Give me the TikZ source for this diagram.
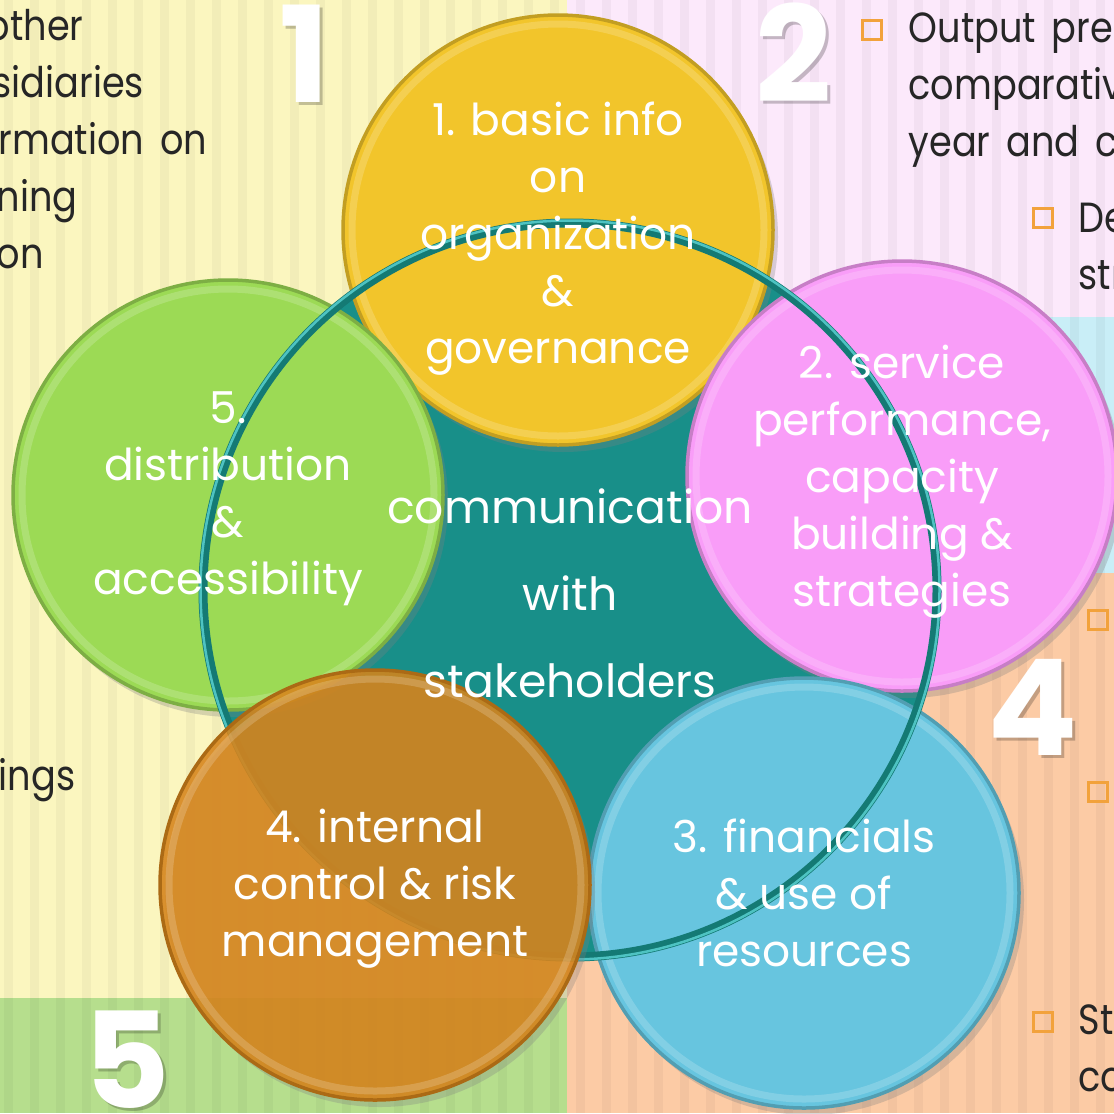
\documentclass[tikz,border=0pt]{standalone}
\usepackage{fontspec}
\setmainfont{Poppins}
\newfontfamily\notefamily[FakeStretch=0.87, WordSpace=1.6]{Poppins}
\usetikzlibrary{shadows}

\definecolor{paneyellow}{HTML}{FBF6BF}
\definecolor{panepink}{HTML}{FCE9FB}
\definecolor{paneblue}{HTML}{C9EEF7}
\definecolor{panepeach}{HTML}{FCCBA5}
\definecolor{panegreen}{HTML}{B6DE8D}
\definecolor{discyellow}{HTML}{F2C52B}
\definecolor{discpink}{HTML}{F99DF8}
\definecolor{discblue}{HTML}{67C5DF}
\definecolor{discorange}{HTML}{D6841A}
\definecolor{discgreen}{HTML}{9CDA55}
\definecolor{hubteal}{HTML}{188F89}
\definecolor{rimcyan}{HTML}{5DD6D6}
\definecolor{notegray}{HTML}{262626}
\definecolor{bulletorange}{HTML}{F2A23C}

\newcommand{\discfont}{\fontsize{12.5}{16.2}\selectfont}
\newcommand{\hubfont}{\fontsize{13}{24.8}\selectfont}
\newcommand{\notefont}{\notefamily\fontsize{12}{16.2}\selectfont}
\newcommand{\numfont}{\fontsize{38}{40}\selectfont\bfseries}

\tikzset{
  disc/.style={circle, minimum size=43mm, inner sep=0pt, fill=#1, draw=#1!80!black, line width=.35mm,
    drop shadow={opacity=.3, shadow xshift=.5mm, shadow yshift=-.7mm},
    path picture={\draw[white, opacity=.18, line width=.7mm] (path picture bounding box.center) circle (20.6mm);}},
  disctext/.style={text=white, align=center, font=\discfont, inner sep=0pt},
  note/.style={anchor=base west, text=notegray, font=\notefont, inner sep=0pt},
  bullet/.style={draw=bulletorange, line width=.3mm, minimum size=1.9mm, inner sep=0pt},
  bignum/.style={anchor=base, text=white, font=\numfont, inner sep=0pt},
  stripe/.style={fill=black, opacity=.035},
  rim/.style={draw=hubteal!85!black, line width=.9mm}
}

\begin{document}
\begin{tikzpicture}[x=0.1mm, y=-0.1mm]
        \useasboundingbox (0,0) rectangle (1114,1113);
        \clip (0,0) rectangle (1114,1113);
        % Background panels
        \fill[paneyellow] (0,0) rectangle (567,998);
        \fill[panepink] (567,0) rectangle (1114,317);
        \fill[paneblue] (567,317) rectangle (1114,573);
        \fill[panepeach] (567,573) rectangle (1114,1113);
        \fill[panegreen] (0,998) rectangle (567,1113);
        \foreach \x in {4,30,...,1114} \fill[stripe] (\x,0) rectangle ++(9,1113);
        % Notes on the left
        \foreach \t/\dx [count=\i] in {other/-14, sidiaries/-8, rmation on/-2, ning/-4, on/-4} \node[note] (left-\i) at (\dx,-17+57*\i) {\t};
        \node[note] (left-6) at (-2,790) {ings};
        % Notes on the right
        \node[bullet] (bul-1) at (872,30) {};
        \foreach \t [count=\i] in {Output pre, comparativ, year and c} \node[note] (right-\i) at (908,-15+57*\i) {\t};
        \node[bullet] (bul-2) at (1043,218) {};
        \node[note] (de-1) at (1078,232) {De};
        \node[note] (de-2) at (1078,289) {str};
        \node[bullet] (bul-3) at (1098,620) {};
        \node[bullet] (bul-4) at (1098,792) {};
        \node[bullet] (bul-5) at (1043,1022) {};
        \node[note] (st-1) at (1078,1034) {St};
        \node[note] (st-2) at (1078,1091) {co};
        % Panel numbers
        \foreach \n/\x/\y in {1/305/102, 2/794/102, 4/1033/755, 5/127/1108} {
            \node[bignum, text=black, text opacity=.22] (numshade-\n) at (\x+3,\y+3) {\n};
            \node[bignum] (num-\n) at (\x,\y) {\n};
        }
        % Hub and discs
        \node[circle, minimum size=73.4mm, fill=hubteal, inner sep=0pt] (hub) at (570,590) {};
        \node[disc=discyellow] (basic) at (558,230) {};
        \node[disc=discgreen] (access) at (228,495) {};
        \node[disc=discpink] (service) at (902,476) {};
        \node[disc=discblue] (finance) at (804,893) {};
        \draw[rim] (hub.center) circle (36.7mm);
        \draw[rimcyan, line width=.25mm, opacity=.8] (hub.center) circle (36.95mm);
        \node[disc=discorange, fill opacity=.88] (control) at (375,885) {};
        % Disc labels
        \node[disctext, yshift=-.9mm] (basic-t) at (basic) {1. basic info\\on\\organization\\\&\\governance};
        \node[disctext, yshift=-.6mm] (service-t) at (service) {2. service\\performance,\\capacity\\building \&\\strategies};
        \node[disctext] (finance-t) at (finance) {3. financials\\\& use of\\resources};
        \node[disctext, yshift=-.4mm] (control-t) at (control) {4. internal\\control \& risk\\management};
        \node[disctext, yshift=-.4mm] (access-t) at (access) {5.\\distribution\\\&\\accessibility};
        \node[disctext, font=\hubfont] (hub-t) at (570,593) {communication\\with\\stakeholders};
    \end{tikzpicture}
\end{document}
